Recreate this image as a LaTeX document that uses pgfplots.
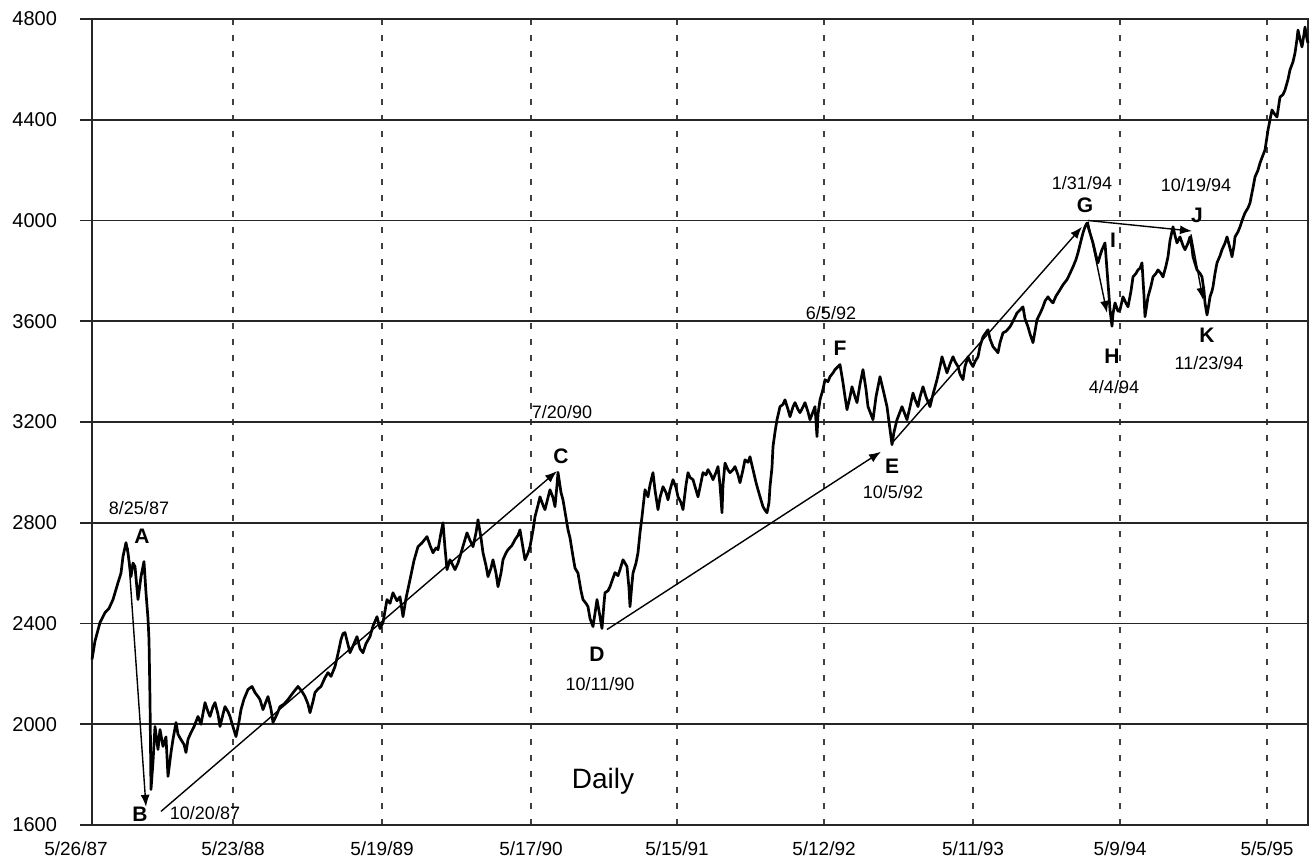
\documentclass[border=0pt]{standalone}
\usepackage{pgfplots}
\pgfplotsset{compat=1.18}
\usepackage{fontspec}
\setmainfont{Liberation Sans}
\usetikzlibrary{arrows.meta}
\begin{document}
\begin{tikzpicture}
\begin{axis}[
  at={(0,0)}, anchor=south west,
  scale only axis, width=608pt, height=403pt,
  xmin=92, xmax=1308, ymin=1600, ymax=4800,
  xtick={233,382,531,677,824,973,1120,1267},
  xticklabels={5/23/88,5/19/89,5/17/90,5/15/91,5/12/92,5/11/93,5/9/94,5/5/95},
  extra x ticks={92}, extra x tick labels={5/26/87},
  extra x tick style={xticklabel style={xshift=-8pt}, grid=none},
  ytick={1600,2000,...,4800},
  xtick pos=bottom, ytick pos=left,
  grid=major,
  x grid style={black!75, dash pattern=on 3pt off 5pt, line width=0.55pt},
  y grid style={black!85, line width=0.8pt},
  axis line style={black!85, line width=0.9pt},
  tick align=outside, major tick length=6pt,
  xtick style={draw=none},
  ytick style={black!85, line width=0.8pt},
  ticklabel style={font=\fontsize{9.5}{11}\selectfont},
  yticklabel style={xshift=-8pt, font=\fontsize{10}{11}\selectfont},
  xticklabel style={yshift=1pt},
  /pgf/number format/assume math mode=true,
  /pgf/number format/1000 sep={},
  clip=false,
]
\addplot[black, line width=1.35pt, line join=round] coordinates {
(92,2257) (95,2330) (100,2404) (105,2443) (109,2460) (113,2495) (118,2562) (121,2600) (123,2666) (126,2721) (128,2680) (131,2586) (133,2640) (135,2626) (138,2495) (141,2586) (144,2646) (146,2522) (148,2420) (149,2336) (150,2100) (151,1741) (153,1850) (155,1991) (158,1900) (160,1979) (163,1912) (166,1950) (168,1793) (171,1888) (173,1940) (176,2007) (178,1960) (181,1939) (184,1920) (186,1888) (188,1940) (191,1967) (194,1990) (198,2031) (201,2000) (205,2086) (208,2050) (210,2031) (213,2070) (215,2086) (218,2040) (220,1991) (223,2040) (225,2070) (228,2050) (230,2031) (233,1990) (236,1951) (239,2010) (241,2058) (244,2100) (248,2138) (252,2150) (255,2126) (258,2110) (260,2098) (263,2058) (266,2090) (268,2110) (271,2060) (273,2007) (277,2040) (280,2070) (284,2080) (288,2098) (293,2125) (298,2150) (302,2130) (305,2110) (308,2080) (310,2046) (313,2090) (315,2126) (318,2140) (321,2150) (325,2185) (328,2205) (331,2190) (335,2229) (338,2280) (341,2336) (343,2360)
(345,2364) (350,2284) (354,2320) (357,2348) (360,2300) (363,2284) (366,2320) (370,2348) (373,2390) (377,2427) (380,2380) (383,2404) (387,2495) (390,2480) (393,2522) (397,2490) (400,2506) (403,2427) (406,2500) (410,2574) (414,2650) (418,2705) (422,2720) (427,2745) (430,2710) (433,2681) (436,2700) (438,2693) (441,2760) (443,2800) (445,2700) (447,2614) (450,2653) (453,2630) (455,2614) (458,2640) (460,2666) (464,2720) (467,2760) (470,2730) (473,2705) (476,2760) (478,2812) (481,2740) (483,2681) (486,2630) (488,2586) (491,2620) (493,2653) (496,2600) (498,2546) (501,2600) (503,2653) (506,2680) (508,2693) (512,2710) (515,2733) (518,2750) (520,2772) (523,2700) (525,2653) (528,2680) (530,2705) (533,2770) (535,2824) (538,2870) (540,2903) (543,2870) (545,2852) (548,2900) (550,2931) (553,2900) (555,2864) (557,2950) (558,3000)
(561,2920) (563,2891) (566,2820) (568,2772) (570,2740) (573,2666) (575,2620) (578,2600) (581,2530) (583,2495) (586,2480) (588,2467) (590,2420) (593,2388) (595,2440) (597,2495) (599,2450) (600,2427) (602,2380) (604,2480) (605,2522) (608,2530) (610,2546) (613,2580) (615,2602) (618,2590) (620,2614) (623,2653) (625,2640) (627,2626) (629,2540) (630,2467) (632,2560) (633,2600) (636,2640) (638,2681) (640,2760) (642,2824) (645,2931) (648,2903) (650,2950) (653,2999) (655,2930) (658,2852) (660,2900) (663,2943) (666,2920) (668,2891) (670,2930) (673,2971) (676,2940) (678,2903) (681,2880) (683,2852) (686,2950) (688,2999) (690,2980) (693,2971) (696,2930) (698,2903) (701,2960) (703,2999) (706,2990) (708,3011) (711,2990) (713,2971) (716,3000) (718,3023) (720,2950) (722,2840) (723,2950) (725,3037) (728,3010) (730,2999) (733,3010) (735,3023) (738,2990) (740,2959) (743,3010) (745,3050) (748,3040) (750,3062) (753,3011) (756,2960) (758,2931) (761,2890) (763,2864) (765,2850) (767,2840) (769,2880) (770,2943) (772,3020) (773,3102) (775,3160) (777,3209) (780,3261) (783,3270) (785,3288) (788,3250) (790,3221) (793,3260) (795,3277) (798,3250) (800,3237) (803,3260) (805,3277) (808,3240) (810,3209) (813,3240) (815,3261) (817,3142) (818,3230) (820,3288) (823,3330) (825,3368) (828,3360) (830,3380) (833,3395) (835,3408) (838,3420) (840,3428) (843,3356) (845,3300) (847,3249) (850,3300) (852,3340) (855,3300) (857,3277)
(860,3350) (863,3408) (866,3330) (868,3261) (871,3230) (873,3209) (876,3300) (880,3380) (883,3330) (887,3261) (889,3200) (892,3110) (894,3160) (897,3209) (900,3240) (902,3261) (905,3230) (907,3209) (910,3260) (913,3315) (915,3290) (918,3261) (920,3300) (923,3340) (926,3300) (930,3261) (933,3310) (937,3368) (940,3420) (942,3459) (945,3420) (947,3395) (950,3430) (953,3459) (955,3440) (958,3420) (960,3390) (963,3368) (965,3420) (968,3459) (970,3440) (973,3420) (975,3440) (978,3459) (980,3500) (983,3538) (985,3550) (988,3566) (990,3530) (993,3499) (995,3490) (998,3475) (1000,3515) (1003,3554) (1006,3560) (1010,3578) (1013,3600) (1017,3633) (1020,3645) (1023,3657) (1025,3610) (1028,3578) (1030,3550) (1033,3515) (1035,3560) (1037,3606) (1040,3630) (1043,3657) (1045,3680) (1048,3697) (1050,3685) (1053,3673) (1056,3700) (1060,3725) (1063,3745) (1067,3765) (1070,3790) (1073,3816) (1076,3845) (1078,3872) (1081,3920) (1083,3951) (1085,3975) (1087,3990)
(1090,3950) (1093,3911) (1096,3860) (1098,3832) (1100,3860) (1102,3884) (1105,3911) (1107,3804) (1109,3700) (1110,3645) (1112,3580) (1113,3630) (1115,3673) (1118,3640) (1120,3645) (1123,3697) (1125,3680) (1128,3657) (1131,3720) (1133,3776) (1136,3790) (1138,3804) (1140,3810) (1142,3832) (1144,3700) (1145,3618) (1147,3670) (1148,3697) (1151,3740) (1153,3776) (1156,3790) (1158,3804) (1161,3790) (1163,3776) (1166,3820) (1168,3856) (1170,3920) (1173,3975) (1175,3940) (1177,3911) (1180,3935) (1183,3900) (1185,3884) (1188,3910) (1190,3935) (1192,3890) (1193,3856) (1195,3830) (1197,3804) (1200,3790) (1202,3776) (1204,3720) (1205,3673) (1207,3625) (1209,3670) (1210,3697) (1212,3720) (1213,3737) (1215,3790) (1217,3832) (1220,3860) (1222,3884) (1225,3910) (1227,3935) (1230,3890) (1232,3856) (1234,3900) (1235,3935) (1238,3955) (1240,3975) (1243,4010) (1245,4030) (1248,4050) (1250,4070) (1253,4130) (1255,4173) (1258,4200) (1260,4228) (1263,4260) (1265,4280) (1268,4359) (1270,4400) (1272,4439) (1275,4420) (1277,4411) (1280,4490) (1283,4500) (1285,4518) (1288,4560) (1290,4598) (1293,4630) (1295,4665) (1297,4720) (1298,4756) (1300,4720) (1302,4689) (1304,4740) (1305,4768) (1307,4720) (1308,4705)
};
% trend arrows
\addplot[black, line width=0.7pt, -{Latex[length=6pt,width=4.5pt]}] coordinates {(128,2700) (146,1672)};
\addplot[black, line width=0.7pt, -{Latex[length=6pt,width=4.5pt]}] coordinates {(161,1654) (557,3005)};
\addplot[black, line width=0.7pt, -{Latex[length=6pt,width=4.5pt]}] coordinates {(607,2376) (881,3082)};
\addplot[black, line width=0.7pt, -{Latex[length=6pt,width=4.5pt]}] coordinates {(893,3121) (1082,3975)};
\addplot[black, line width=0.7pt, -{Latex[length=6pt,width=4.5pt]}] coordinates {(1088,3995) (1107,3633)};
\addplot[black, line width=0.7pt, -{Latex[length=6pt,width=4.5pt]}] coordinates {(1088,4000) (1192,3958)};
\addplot[black, line width=0.7pt, -{Latex[length=6pt,width=4.5pt]}] coordinates {(1191,3945) (1203,3685)};
% annotations
\begin{scope}[font=\fontsize{9}{10}\selectfont]
\node at (axis cs:139,2860) {8/25/87};
\node at (axis cs:205,1648) {10/20/87};
\node at (axis cs:562,3240) {7/20/90};
\node at (axis cs:600,2160) {10/11/90};
\node at (axis cs:831,3634) {6/5/92};
\node at (axis cs:893,2922) {10/5/92};
\node at (axis cs:1082,4150) {1/31/94};
\node at (axis cs:1196,4140) {10/19/94};
\node at (axis cs:1114,3340) {4/4/94};
\node at (axis cs:1209,3432) {11/23/94};
\end{scope}
\begin{scope}[font=\fontsize{10.5}{12}\selectfont\bfseries]
\node at (axis cs:142,2746) {A};
\node at (axis cs:140,1642) {B};
\node at (axis cs:561,3063) {C};
\node at (axis cs:597,2278) {D};
\node at (axis cs:892,3026) {E};
\node at (axis cs:840,3492) {F};
\node at (axis cs:1085,4060) {G};
\node at (axis cs:1112,3460) {H};
\node at (axis cs:1113,3920) {I};
\node at (axis cs:1197,4020) {J};
\node at (axis cs:1207,3546) {K};
\end{scope}
\node[font=\fontsize{14}{16}\selectfont] at (axis cs:603,1775) {Daily};
\end{axis}
\pgfresetboundingbox
\path[use as bounding box] (-46pt,-18.75pt) rectangle (610pt,412.5pt);
\end{tikzpicture}
\end{document}
